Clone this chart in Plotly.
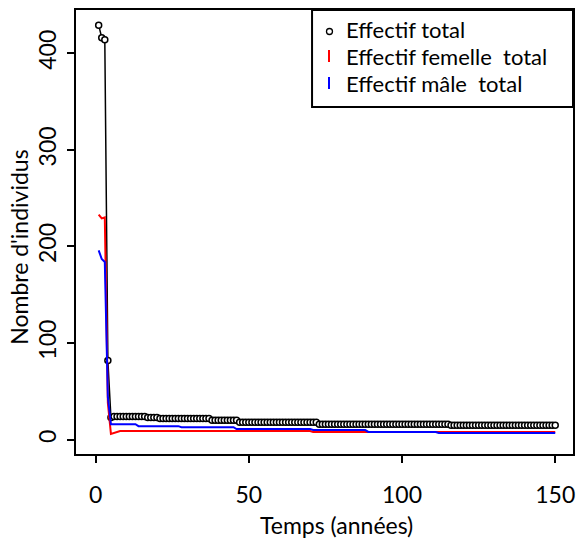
import plotly.graph_objects as go

# ---- data ----
years = list(range(1, 151))

total = [
    429, 416, 414, 82, 23, 24, 24, 24, 24, 24,
    24, 24, 24, 24, 24, 24, 23, 23, 23, 23,
    22, 22, 22, 22, 22, 22, 22, 22, 22, 22,
    22, 22, 22, 22, 22, 22, 22, 20, 20, 20,
    20, 20, 20, 20, 20, 20, 18, 18, 18, 18,
    18, 18, 18, 18, 18, 18, 18, 18, 18, 18,
    18, 18, 18, 18, 18, 18, 18, 18, 18, 18,
    18, 18, 16, 16, 16, 16, 16, 16, 16, 16,
    16, 16, 16, 16, 16, 16, 16, 16, 16, 16,
    16, 16, 16, 16, 16, 16, 16, 16, 16, 16,
    16, 16, 16, 16, 16, 16, 16, 16, 16, 16,
    16, 16, 16, 16, 16, 15, 15, 15, 15, 15,
    15, 15, 15, 15, 15, 15, 15, 15, 15, 15,
    15, 15, 15, 15, 15, 15, 15, 15, 15, 15,
    15, 15, 15, 15, 15, 15, 15, 15, 15, 15,
]

female = [
    233, 229, 230, 38, 6, 7, 8, 9, 9, 9,
    9, 9, 9, 9, 9, 9, 9, 9, 9, 9,
    9, 9, 9, 9, 9, 9, 9, 9, 9, 9,
    9, 9, 9, 9, 9, 9, 9, 9, 9, 9,
    9, 9, 9, 9, 9, 9, 9, 9, 9, 9,
    9, 9, 9, 9, 9, 9, 9, 9, 9, 9,
    9, 9, 9, 9, 9, 9, 9, 9, 9, 9,
    8, 8, 8, 8, 8, 8, 8, 8, 8, 8,
    8, 8, 8, 8, 8, 8, 8, 8, 8, 8,
    8, 8, 8, 8, 8, 8, 8, 8, 8, 8,
    8, 8, 8, 8, 8, 8, 8, 8, 8, 8,
    8, 8, 8, 8, 8, 8, 8, 8, 8, 8,
    8, 8, 8, 8, 8, 8, 8, 8, 8, 8,
    8, 8, 8, 8, 8, 8, 8, 8, 8, 8,
    8, 8, 8, 8, 8, 8, 8, 8, 8, 8,
]

male = [
    196, 187, 184, 44, 16, 16, 16, 16, 16, 16,
    16, 16, 16, 14, 14, 14, 14, 14, 14, 14,
    14, 14, 14, 14, 14, 14, 14, 13, 13, 13,
    13, 13, 13, 13, 13, 13, 13, 13, 13, 13,
    13, 13, 13, 13, 13, 11, 11, 11, 11, 11,
    11, 11, 11, 11, 11, 11, 11, 11, 11, 11,
    11, 11, 11, 11, 11, 11, 11, 11, 11, 11,
    10, 10, 10, 10, 10, 10, 10, 10, 10, 10,
    10, 10, 10, 10, 10, 10, 10, 10, 8, 8,
    8, 8, 8, 8, 8, 8, 8, 8, 8, 8,
    8, 8, 8, 8, 8, 8, 8, 8, 8, 8,
    8, 7, 7, 7, 7, 7, 7, 7, 7, 7,
    7, 7, 7, 7, 7, 7, 7, 7, 7, 7,
    7, 7, 7, 7, 7, 7, 7, 7, 7, 7,
    7, 7, 7, 7, 7, 7, 7, 7, 7, 7,
]

x_ticks = [0, 50, 100, 150]
y_ticks = [0, 100, 200, 300, 400]
legend_labels = ["Effectif total", "Effectif femelle  total", "Effectif mâle  total"]
x_title = "Temps (années)"
y_title = "Nombre d'individus"

FONT = "Lato"
FS = 23
LEG_FS = 22

# ---- geometry (pixels) ----
W, H = 583, 538
L, R, T, B = 76, 8, 10, 84
PW, PH = W - L - R, H - T - B


def px_x(p):
    return (p - L) / PW


def px_y(p):
    return (H - B - p) / PH


fig = go.Figure()
fig.add_trace(go.Scatter(
    x=years, y=total, mode="lines+markers",
    line=dict(color="black", width=1.5),
    marker=dict(symbol="circle", size=6, color="white",
                line=dict(color="black", width=1.5)),
    showlegend=False, name=legend_labels[0]))
fig.add_trace(go.Scatter(
    x=years, y=female, mode="lines",
    line=dict(color="#ff0000", width=2),
    showlegend=False, name=legend_labels[1]))
fig.add_trace(go.Scatter(
    x=years, y=male, mode="lines",
    line=dict(color="#0000ff", width=2),
    showlegend=False, name=legend_labels[2]))

axis_common = dict(
    showgrid=False, zeroline=False, showline=True, linecolor="black",
    linewidth=2, mirror=True, ticks="outside", ticklen=7, tickwidth=1.5,
    tickcolor="black", tickfont=dict(family=FONT, size=FS, color="black"),
)

fig.update_xaxes(range=[-6.4, 155.8], tickvals=x_ticks,
                 ticktext=[str(v) for v in x_ticks],
                 ticklabelstandoff=12, **axis_common)
fig.update_yaxes(range=[-14.8, 444.7], tickvals=y_ticks,
                 ticktext=[str(v) for v in y_ticks], tickangle=-90,
                 ticklabelstandoff=2, **axis_common)

# ---- manual legend (R style) ----
row_y = [29, 56, 83]
shapes = [
    dict(type="rect", xref="paper", yref="paper",
         x0=px_x(313), x1=px_x(575), y0=px_y(107), y1=px_y(10),
         line=dict(color="black", width=2), fillcolor="white", layer="above"),
    dict(type="circle", xref="paper", yref="paper",
         xsizemode="pixel", ysizemode="pixel",
         xanchor=px_x(330.5), yanchor=px_y(row_y[0] + 2.5),
         x0=-3, x1=3, y0=-3, y1=3,
         line=dict(color="black", width=1.3), layer="above"),
    dict(type="line", xref="paper", yref="paper",
         x0=px_x(330), x1=px_x(330), y0=px_y(row_y[1] - 6), y1=px_y(row_y[1] + 6),
         line=dict(color="#ff0000", width=2), layer="above"),
    dict(type="line", xref="paper", yref="paper",
         x0=px_x(330), x1=px_x(330), y0=px_y(row_y[2] - 6), y1=px_y(row_y[2] + 6),
         line=dict(color="#0000ff", width=2), layer="above"),
]
annotations = [
    dict(text=lab, xref="paper", yref="paper", x=px_x(345), y=px_y(ry),
         xanchor="left", yanchor="middle", showarrow=False,
         font=dict(family=FONT, size=LEG_FS, color="black"))
    for lab, ry in zip(legend_labels, row_y)
]
# axis titles
annotations.append(dict(
    text=x_title, xref="paper", yref="paper", x=px_x(338), y=px_y(525),
    xanchor="center", yanchor="middle", showarrow=False,
    font=dict(family=FONT, size=FS, color="black")))
annotations.append(dict(
    text=y_title, xref="paper", yref="paper", x=px_x(18.5), y=px_y(247),
    xanchor="center", yanchor="middle", showarrow=False, textangle=-90,
    font=dict(family=FONT, size=FS, color="black")))

fig.update_layout(
    width=W, height=H, margin=dict(l=L, r=R, t=T, b=B),
    plot_bgcolor="white", paper_bgcolor="white",
    shapes=shapes, annotations=annotations, showlegend=False,
)

fig.write_html("out.html")
